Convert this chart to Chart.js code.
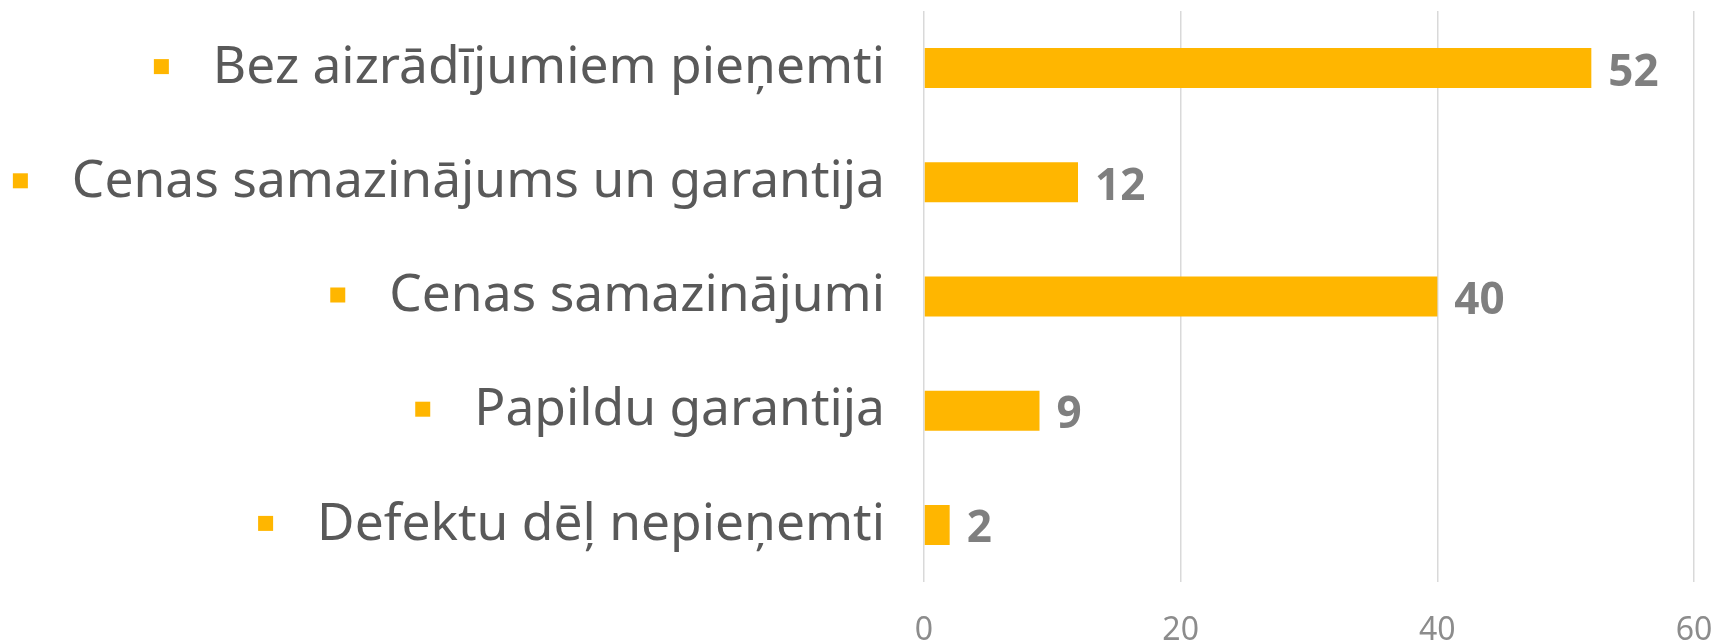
<!DOCTYPE html>
<html>
<head>
<meta charset="utf-8">
<script src="https://cdn.jsdelivr.net/npm/chart.js@4.4.1/dist/chart.umd.min.js"></script>
<style>
  html, body { margin: 0; padding: 0; background: #fff; }
  #wrap { width: 1721px; height: 643px; }
</style>
</head>
<body>
<div id="wrap"><canvas id="barChart"></canvas></div>
<script>
// chart data
const categories = [
    'Bez aizrādījumiem pieņemti',
    'Cenas samazinājums un garantija',
    'Cenas samazinājumi',
    'Papildu garantija',
    'Defektu dēļ nepieņemti'
];
const counts = [52, 12, 40, 9, 2];
const xTicks = [0, 20, 40, 60];

const barColor = '#FFB600';
const labelFont = '51.5px "Noto Sans"';

// small square bullets in front of the category labels
const bulletPlugin = {
    id: 'bullets',
    afterDraw(chart) {
        const ctx = chart.ctx;
        const yScale = chart.scales.y;
        const labelRight = yScale.right - yScale.options.ticks.padding;
        ctx.save();
        ctx.font = labelFont;
        ctx.fillStyle = barColor;
        categories.forEach(function (cat, i) {
            const w = ctx.measureText(cat).width;
            const y = yScale.getPixelForTick(i);
            ctx.fillRect(labelRight - w - 44 - 15, y - 9, 15, 15);
        });
        ctx.restore();
    }
};

// value labels at the end of each bar
const valuePlugin = {
    id: 'values',
    afterDatasetsDraw(chart) {
        const ctx = chart.ctx;
        const meta = chart.getDatasetMeta(0);
        ctx.save();
        ctx.font = 'bold 44px "Noto Sans"';
        ctx.fillStyle = '#7F7F7F';
        ctx.textBaseline = 'middle';
        ctx.textAlign = 'left';
        meta.data.forEach(function (bar, i) {
            ctx.fillText(String(counts[i]), bar.x + 17, bar.y + 5);
        });
        ctx.restore();
    }
};

document.addEventListener('DOMContentLoaded', function () {
    const ctx = document.getElementById('barChart').getContext('2d');
    new Chart(ctx, {
        type: 'bar',
        data: {
            labels: categories,
            datasets: [{
                data: counts,
                backgroundColor: barColor,
                borderWidth: 0,
                categoryPercentage: 1,
                barPercentage: 0.35
            }]
        },
        options: {
            indexAxis: 'y',
            responsive: true,
            maintainAspectRatio: false,
            animation: false,
            layout: { padding: { top: 11, right: 27, left: 0, bottom: 0 } },
            scales: {
                x: {
                    min: 0,
                    max: 60,
                    afterBuildTicks: function (scale) {
                        scale.ticks = xTicks.map(v => ({ value: v }));
                    },
                    grid: { color: '#D9D9D9', lineWidth: 1.5, drawTicks: false },
                    border: { display: false },
                    ticks: {
                        padding: 30,
                        color: '#8C8C8C',
                        font: { family: 'Noto Sans', size: 32 }
                    },
                    afterFit: function (scale) {
                        scale.height = 61;
                        scale.paddingLeft = 0;
                        scale.paddingRight = 0;
                    }
                },
                y: {
                    grid: { display: false, drawTicks: false },
                    border: { display: false },
                    ticks: {
                        padding: 39,
                        color: '#595959',
                        font: { family: 'Noto Sans', size: 51.5 }
                    },
                    afterFit: function (scale) {
                        scale.width = 924;
                        scale.paddingTop = 0;
                        scale.paddingBottom = 0;
                    }
                }
            },
            plugins: {
                legend: { display: false },
                tooltip: { enabled: false }
            }
        },
        plugins: [bulletPlugin, valuePlugin]
    });
});
</script>
</body>
</html>
